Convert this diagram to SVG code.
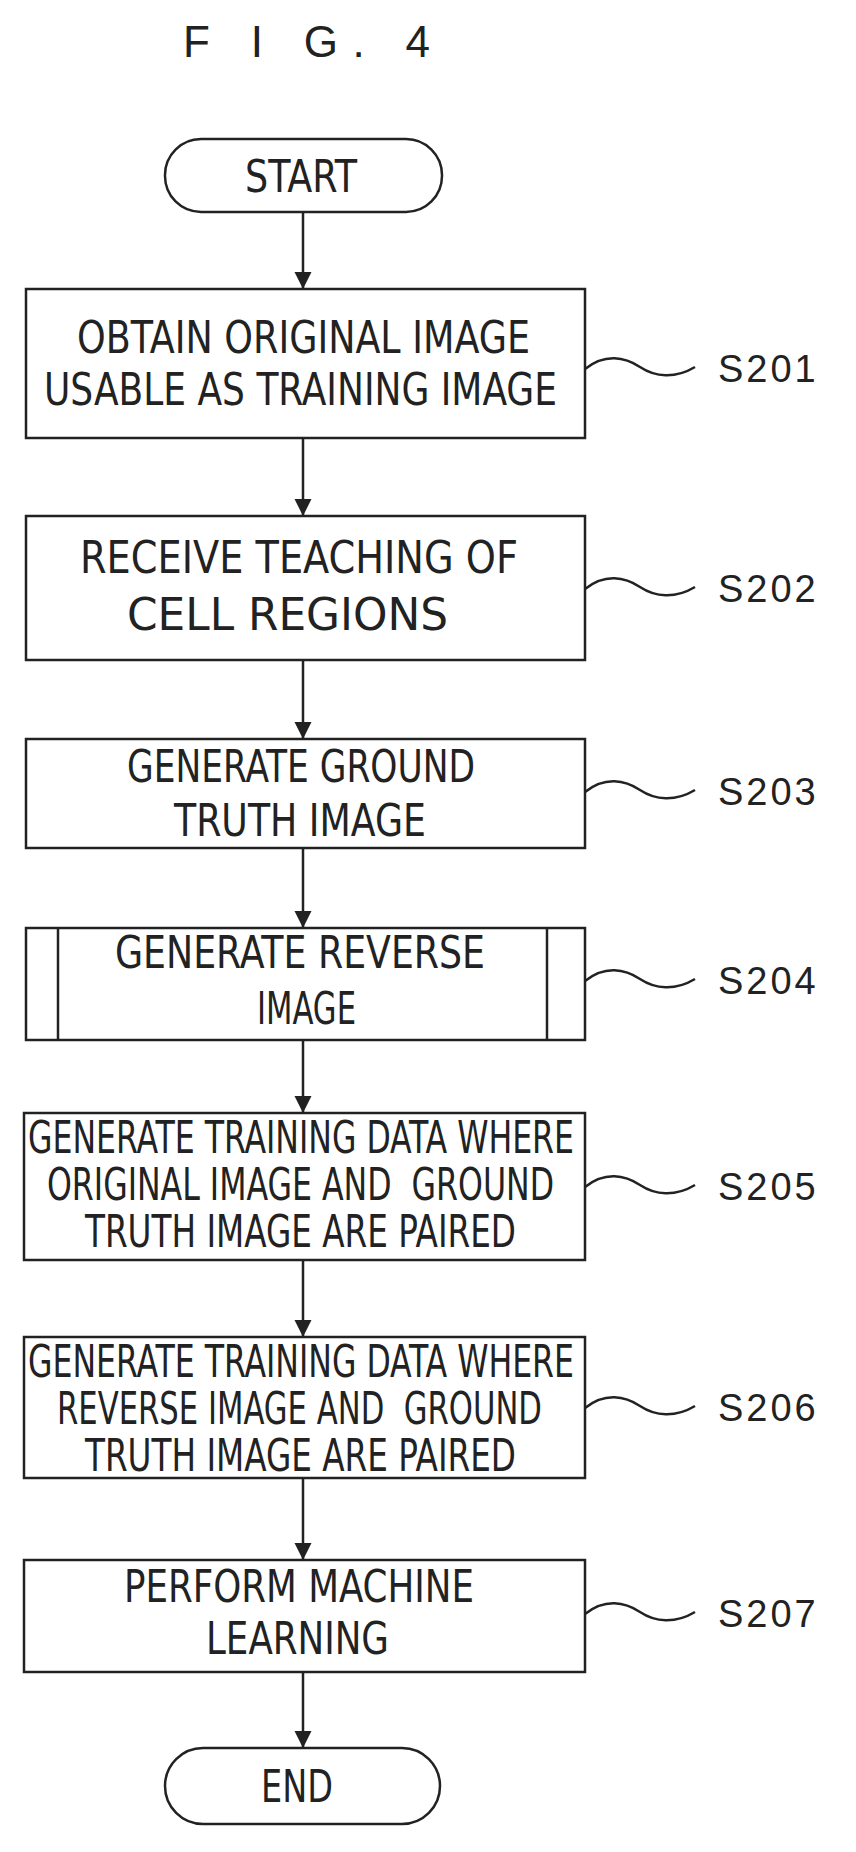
<svg xmlns="http://www.w3.org/2000/svg" width="856" height="1852" viewBox="0 0 856 1852">
<defs>
<style>
.b{fill:#fff;stroke:#222;stroke-width:2.5}
.t{font-family:"DejaVu Sans Condensed","Liberation Sans",sans-serif;font-size:44px;fill:#222;text-anchor:start}
.l{font-family:"Liberation Sans",sans-serif;font-size:38px;fill:#222;letter-spacing:3px}
.c{fill:none;stroke:#222;stroke-width:2.5}
</style>
<marker id="a" viewBox="0 0 10 10" refX="10" refY="5" markerWidth="7" markerHeight="7" orient="auto"><path d="M0,0 L10,5 L0,10 z" fill="#222"/></marker>
</defs>
<rect width="856" height="1852" fill="#fff"/>
<text x="183" y="57" font-family="Liberation Sans,sans-serif" font-size="44" fill="#222" textLength="247" lengthAdjust="spacing">F I G. 4</text>
<g id="connectors">
<line class="c" x1="303" y1="212" x2="303" y2="289" marker-end="url(#a)"/>
<line class="c" x1="303" y1="438" x2="303" y2="516" marker-end="url(#a)"/>
<line class="c" x1="303" y1="660" x2="303" y2="739" marker-end="url(#a)"/>
<line class="c" x1="303" y1="848" x2="303" y2="928" marker-end="url(#a)"/>
<line class="c" x1="303" y1="1040" x2="303" y2="1113" marker-end="url(#a)"/>
<line class="c" x1="303" y1="1260" x2="303" y2="1337" marker-end="url(#a)"/>
<line class="c" x1="303" y1="1478" x2="303" y2="1560" marker-end="url(#a)"/>
<line class="c" x1="303" y1="1672" x2="303" y2="1748" marker-end="url(#a)"/>
<path class="c" d="M585,369 c20,-16 40,-12 55,-2 s35,12 55,0"/>
<path class="c" d="M585,589 c20,-16 40,-12 55,-2 s35,12 55,0"/>
<path class="c" d="M585,792 c20,-16 40,-12 55,-2 s35,12 55,0"/>
<path class="c" d="M585,981 c20,-16 40,-12 55,-2 s35,12 55,0"/>
<path class="c" d="M585,1187 c20,-16 40,-12 55,-2 s35,12 55,0"/>
<path class="c" d="M585,1408 c20,-16 40,-12 55,-2 s35,12 55,0"/>
<path class="c" d="M585,1614 c20,-16 40,-12 55,-2 s35,12 55,0"/>
</g>
<g id="start"><rect class="b" x="165" y="139" width="277" height="73" rx="36"/><text class="t" x="245" y="192" textLength="112" lengthAdjust="spacingAndGlyphs">START</text></g>
<g id="s201"><rect class="b" x="26" y="289" width="559" height="149"/>
<text class="t" x="77" y="353" textLength="453" lengthAdjust="spacingAndGlyphs">OBTAIN ORIGINAL IMAGE</text>
<text class="t" x="44" y="405" textLength="513" lengthAdjust="spacingAndGlyphs">USABLE AS TRAINING IMAGE</text>
<text class="l" x="718" y="382">S201</text></g>
<g id="s202"><rect class="b" x="26" y="516" width="559" height="144"/>
<text class="t" x="80" y="573" textLength="438" lengthAdjust="spacingAndGlyphs">RECEIVE TEACHING OF</text>
<text class="t" x="127" y="630" textLength="321" lengthAdjust="spacingAndGlyphs">CELL REGIONS</text>
<text class="l" x="718" y="602">S202</text></g>
<g id="s203"><rect class="b" x="26" y="739" width="559" height="109"/>
<text class="t" x="127" y="782" textLength="348" lengthAdjust="spacingAndGlyphs">GENERATE GROUND</text>
<text class="t" x="174" y="836" textLength="252" lengthAdjust="spacingAndGlyphs">TRUTH IMAGE</text>
<text class="l" x="718" y="805">S203</text></g>
<g id="s204"><rect class="b" x="26" y="928" width="559" height="112"/>
<line class="c" x1="58" y1="928" x2="58" y2="1040"/><line class="c" x1="547" y1="928" x2="547" y2="1040"/>
<text class="t" x="115" y="968" textLength="370" lengthAdjust="spacingAndGlyphs">GENERATE REVERSE</text>
<text class="t" x="257" y="1024" textLength="99" lengthAdjust="spacingAndGlyphs">IMAGE</text>
<text class="l" x="718" y="994">S204</text></g>
<g id="s205"><rect class="b" x="24" y="1113" width="561" height="147"/>
<text class="t" x="28" y="1153" textLength="546" lengthAdjust="spacingAndGlyphs">GENERATE TRAINING DATA WHERE</text>
<text class="t" x="47" y="1200" textLength="507" lengthAdjust="spacingAndGlyphs" xml:space="preserve">ORIGINAL IMAGE AND  GROUND</text>
<text class="t" x="85" y="1247" textLength="431" lengthAdjust="spacingAndGlyphs">TRUTH IMAGE ARE PAIRED</text>
<text class="l" x="718" y="1200">S205</text></g>
<g id="s206"><rect class="b" x="24" y="1337" width="561" height="141"/>
<text class="t" x="28" y="1377" textLength="546" lengthAdjust="spacingAndGlyphs">GENERATE TRAINING DATA WHERE</text>
<text class="t" x="57" y="1424" textLength="485" lengthAdjust="spacingAndGlyphs" xml:space="preserve">REVERSE IMAGE AND  GROUND</text>
<text class="t" x="85" y="1471" textLength="431" lengthAdjust="spacingAndGlyphs">TRUTH IMAGE ARE PAIRED</text>
<text class="l" x="718" y="1421">S206</text></g>
<g id="s207"><rect class="b" x="24" y="1560" width="561" height="112"/>
<text class="t" x="124" y="1602" textLength="350" lengthAdjust="spacingAndGlyphs">PERFORM MACHINE</text>
<text class="t" x="206" y="1654" textLength="183" lengthAdjust="spacingAndGlyphs">LEARNING</text>
<text class="l" x="718" y="1627">S207</text></g>
<g id="end"><rect class="b" x="165" y="1748" width="275" height="76" rx="38"/><text class="t" x="261" y="1802" textLength="72" lengthAdjust="spacingAndGlyphs">END</text></g>
</svg>
